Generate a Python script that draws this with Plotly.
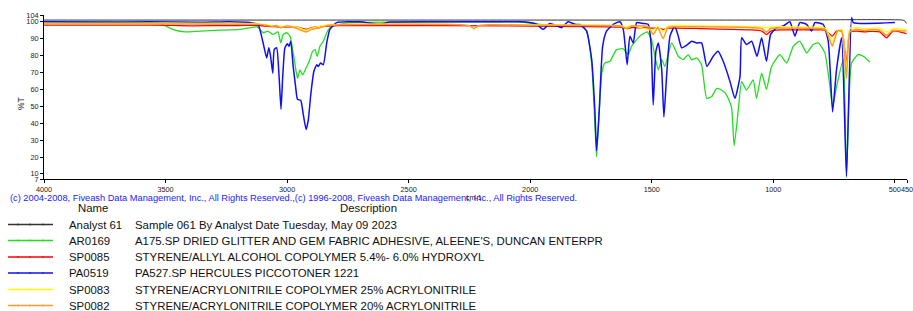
import plotly.graph_objects as go

# ---------------- data ----------------
x_ticks = [4000, 3500, 3000, 2500, 2000, 1500, 1000, 500, 450]
y_ticks = [7, 10, 20, 30, 40, 50, 60, 70, 80, 90, 100, 104]

names = ["Analyst 61", "AR0169", "SP0085", "PA0519", "SP0083", "SP0082"]
descriptions = [
    "Sample 061 By Analyst Date Tuesday, May 09 2023",
    "A175.SP DRIED GLITTER AND GEM FABRIC ADHESIVE, ALEENE'S, DUNCAN ENTERPR",
    "STYRENE/ALLYL ALCOHOL COPOLYMER 5.4%- 6.0% HYDROXYL",
    "PA527.SP HERCULES PICCOTONER 1221",
    "STYRENE/ACRYLONITRILE COPOLYMER 25% ACRYLONITRILE",
    "STYRENE/ACRYLONITRILE COPOLYMER 20% ACRYLONITRILE",
]
colors = ["#333333", "#22dd22", "#ff0000", "#1010ee", "#ffff00", "#ff9933"]

analyst_wn = [4000, 3000, 2000, 1000, 467, 459, 452]
analyst_t = [101, 101, 101, 101, 101, 100.5, 99]

ar0169_wn = [4000, 3770, 3564, 3523, 3461, 3420, 3358, 3276, 3194, 3124, 3098, 3079, 3058,
             3038, 3026, 3016, 3002, 2988, 2975, 2964, 2957, 2947, 2936, 2922, 2909, 2895,
             2885, 2876, 2865, 2851, 2837, 2824, 2783, 2741, 2536, 2124, 2042, 1960, 1865,
             1795, 1768, 1747, 1734, 1727, 1716, 1705, 1693, 1672, 1645, 1617, 1597, 1583,
             1549, 1519, 1501, 1487, 1473, 1459, 1446, 1418, 1391, 1371, 1350, 1336, 1315,
             1295, 1274, 1254, 1233, 1213, 1192, 1172, 1161, 1144, 1130, 1110, 1083, 1069,
             1048, 1028, 1007, 973, 945, 918, 891, 863, 836, 815, 788, 767, 756, 740, 712,
             699, 678, 651, 630, 603]
ar0169_t = [100, 99.8, 99.5, 99, 95, 94, 94.5, 95, 95.5, 97, 93.5, 94.5, 92.5,
            94, 87.5, 92.5, 93.5, 91.5, 81.6, 71.6, 66.6, 71.6, 68.6, 72.6, 76.6, 82.5,
            83.5, 79.6, 85.5, 88.5, 93.5, 96.5, 98.5, 99.5, 99.8, 100, 100, 98.5, 97.5,
            98.5, 94.5, 75, 40, 20.2, 47, 70, 75.6, 76.6, 83.5, 84, 80.6, 85.5,
            91.5, 94, 89.5, 79.6, 71.6, 77.6, 73.6, 87.5, 79.6, 77.6, 80.6, 77.6, 78.6,
            74.6, 54.7, 55.6, 60.6, 59.6, 56.6, 49.6, 26.7, 47.7, 64.6, 59.6, 65.6, 54.7,
            69.6, 60, 73.6, 80.6, 75.6, 85.5, 88.5, 81.6, 86.5, 87.5, 81.6, 61.6, 49.6, 61.6, 77.6,
            8, 75.6, 80.6, 79.6, 76.2]

sp0085_wn = [4000, 3564, 3400, 3200, 3120, 3062, 3025, 2959, 2922, 2898, 2832, 2783, 2001,
             1631, 1603, 1582, 1494, 1475, 1453, 1433, 1302, 1095, 1047, 1028, 1010, 973,
             903, 800, 784, 757, 740, 718, 699, 685, 657, 623, 603, 562, 534, 508, 493, 452]
sp0085_t = [98, 98, 97.6, 97.8, 97.8, 97.2, 96.8, 96.8, 95.5, 96.5, 97.5, 97.7, 97.5,
            96.8, 96, 96.6, 96.2, 96.3, 95.5, 96.2, 96, 95.2, 94.5, 92.5, 94.5, 95.2,
            95.2, 95.2, 94.8, 91.5, 94.5, 94.5, 75.6, 94, 94.5, 94, 94.3, 94, 90.5, 94.5, 94.4, 93]

pa0519_wn = [4000, 3770, 3564, 3358, 3235, 3153, 3120, 3099, 3084, 3075, 3068, 3059, 3053,
             3043, 3033, 3025, 3018, 3009, 2999, 2992, 2985, 2975, 2965, 2957, 2944, 2934,
             2922, 2913, 2902, 2890, 2878, 2872, 2862, 2851, 2837, 2824, 2796, 2700, 2618,
             2577, 2330, 2042, 2001, 1974, 1946, 1919, 1891, 1871, 1844, 1816, 1788, 1768,
             1747, 1734, 1727, 1716, 1702, 1686, 1658, 1631, 1617, 1601, 1590, 1576, 1562,
             1535, 1515, 1503, 1494, 1483, 1473, 1459, 1450, 1439, 1425, 1405, 1391, 1377,
             1357, 1336, 1315, 1295, 1273, 1247, 1227, 1206, 1178, 1158, 1137, 1130, 1110,
             1089, 1067, 1048, 1028, 1011, 986, 959, 932, 911, 891, 863, 843, 829, 795, 774,
             756, 740, 719, 699, 678, 671, 500]
pa0519_t = [100, 99.8, 100, 99.7, 100, 99.5, 98.5, 87.7, 78.6, 84.7, 79.6, 69.6, 83.5,
            84.6, 67.6, 48.3, 67.6, 84.6, 87, 85.5, 88.5, 73.6, 61.6, 54, 53.6, 45.7,
            36.3, 41.7, 57.7, 70.6, 74.6, 73.6, 75.6, 74.6, 87.5, 95.5, 99.5, 100, 98.5,
            99.8, 100, 100, 99.5, 98.5, 95.5, 99, 97.5, 96.5, 100, 98.5, 97.5, 94.5,
            77.6, 47.7, 23.7, 47.7, 85.5, 94.5, 98.5, 100, 95.5, 74.6, 91.5, 87.5, 99.5,
            99, 98.5, 87.5, 50.7, 82.5, 87.5, 71.6, 43.7, 67.6, 91.5, 97.5, 91.5, 84.6,
            86, 88.5, 87.5, 87.5, 73.6, 79.6, 82.5, 76.6, 64.6, 54.7, 67.6, 90.5, 86.5,
            88.5, 79.6, 90.5, 76.6, 92.5, 96.5, 97.5, 100, 91.5, 99.5, 98.5, 94.5, 99.5, 98.5, 88.5,
            46.7, 71.6, 90.5, 8.8, 102.5, 99.5, 99.5]

sp0083_wn = [4000, 3120, 3062, 3025, 2959, 2922, 2898, 2832, 2289, 2248, 2231, 2215, 2166,
             2001, 1631, 1603, 1582, 1494, 1475, 1453, 1433, 1302, 1047, 1028, 1010, 903,
             800, 784, 757, 740, 718, 699, 685, 657, 623, 562, 534, 508, 452]
sp0083_t = [99, 98.8, 97.8, 97.2, 96.8, 95, 96.3, 98.2, 98.5, 97.5, 95.8, 97.5, 98.4,
            98.2, 97.8, 97, 97.8, 95, 97.2, 94, 97.5, 97.5, 97, 96.5, 97, 97,
            96.8, 96, 88.5, 93.5, 95.5, 71.6, 96, 96.5, 96, 96.3, 94, 96, 95.5]

sp0082_wn = [4000, 3564, 3120, 3080, 3062, 3045, 3025, 3005, 2988, 2959, 2922, 2898, 2865,
             2832, 2783, 2289, 2248, 2231, 2215, 2166, 2001, 1754, 1631, 1603, 1582, 1516,
             1494, 1475, 1453, 1433, 1384, 1302, 1084, 1047, 1028, 1010, 973, 903, 800, 784,
             757, 751, 734, 718, 699, 685, 657, 623, 603, 562, 534, 508, 493, 452]
sp0082_t = [98.7, 98.7, 98.5, 97.8, 97.2, 97.8, 96.5, 97.5, 97.4, 96, 94, 95.5, 96.5,
            97.9, 98.3, 98.3, 97.5, 96, 97.5, 98.2, 98, 97.8, 97.6, 96, 97.5, 97.3,
            92.5, 96.5, 90, 96.7, 97, 97, 96.5, 96, 94, 96, 96.3, 96.2, 96, 95,
            85.5, 88, 95, 94, 66.6, 94, 95.5, 94.8, 95.3, 95, 92, 95, 94.8, 94.5]

series_wn = [analyst_wn, ar0169_wn, sp0085_wn, pa0519_wn, sp0083_wn, sp0082_wn]
series_t = [analyst_t, ar0169_t, sp0085_t, pa0519_t, sp0083_t, sp0082_t]

copyright_text = ("(c) 2004-2008, Fiveash Data Management, Inc., All Rights Reserved.,"
                  "(c) 1996-2008, Fiveash Data Management, Inc., All Rights Reserved.")

# ---------------- layout geometry ----------------
W, H = 913, 311
L, R, T, B = 44, 907, 15, 179
FONT = "Arial, Liberation Sans, sans-serif"


def pxx(x):
    return (x - L) / (R - L)


def pyy(y):
    return (B - y) / (B - T)


fig = go.Figure()
widths = [1.0, 1.3, 1.3, 1.5, 1.3, 1.5]
for wn, t, c, n, w in zip(series_wn, series_t, colors, names, widths):
    fig.add_trace(go.Scatter(x=wn, y=t, mode="lines", name=n,
                             line=dict(color=c, width=w, shape="spline", smoothing=0.5),
                             hoverinfo="x+y+name"))

annotations = []
shapes = []

annotations.append(dict(text="%T", x=pxx(14), y=pyy(103), xref="paper", yref="paper",
                        showarrow=False, textangle=-90, font=dict(size=8.5, color="#222", family=FONT)))
annotations.append(dict(text=copyright_text, x=pxx(8), y=pyy(197.5), xref="paper", yref="paper",
                        xanchor="left", yanchor="middle", showarrow=False,
                        font=dict(size=9.25, color="#2222ff", family=FONT)))
annotations.append(dict(text="cm-1", x=pxx(474), y=pyy(197.5), xref="paper", yref="paper",
                        xanchor="center", yanchor="middle", showarrow=False,
                        font=dict(size=7, color="#222", family=FONT)))

annotations.append(dict(text="Name", x=pxx(93), y=pyy(207.5), xref="paper", yref="paper",
                        xanchor="center", yanchor="middle", showarrow=False,
                        font=dict(size=11.4, color="#111", family=FONT)))
annotations.append(dict(text="Description", x=pxx(368), y=pyy(207.5), xref="paper", yref="paper",
                        xanchor="center", yanchor="middle", showarrow=False,
                        font=dict(size=11.4, color="#111", family=FONT)))
row_y = [224.5, 240.5, 257, 273, 289.5, 305.5]
for i, (n, d, c) in enumerate(zip(names, descriptions, colors)):
    yy = row_y[i]
    shapes.append(dict(type="line", xref="paper", yref="paper", x0=pxx(8), x1=pxx(53),
                       y0=pyy(yy), y1=pyy(yy), line=dict(color=c, width=1.3)))
    for tx in (18, 30, 43):
        shapes.append(dict(type="line", xref="paper", yref="paper", x0=pxx(tx), x1=pxx(tx),
                           y0=pyy(yy - 1), y1=pyy(yy + 1), line=dict(color=c, width=1)))
    annotations.append(dict(text=n, x=pxx(67), y=pyy(yy), xref="paper", yref="paper",
                            xanchor="left", yanchor="middle", showarrow=False,
                            font=dict(size=11.4, color="#111", family=FONT)))
    annotations.append(dict(text=d, x=pxx(133), y=pyy(yy), xref="paper", yref="paper",
                            xanchor="left", yanchor="middle", showarrow=False,
                            font=dict(size=11.4, color="#111", family=FONT)))

fig.update_layout(
    width=W, height=H, autosize=False,
    margin=dict(l=L, r=W - R, t=T, b=H - B, pad=0),
    paper_bgcolor="white", plot_bgcolor="white",
    showlegend=False,
    font=dict(family=FONT, size=9, color="#222"),
    annotations=annotations,
    shapes=shapes,
    xaxis=dict(range=[4000, 450], tickmode="array", tickvals=x_ticks,
               ticktext=[str(v) for v in x_ticks], tickangle=0, ticklabeloverflow="allow",
               showgrid=False, zeroline=False, showline=True, linecolor="black", linewidth=1,
               ticks="outside", ticklen=3, tickcolor="black", tickfont=dict(size=7.3, color="#222"),
               automargin=False),
    yaxis=dict(range=[7, 104], tickmode="array", tickvals=y_ticks,
               showgrid=False, zeroline=False, showline=True, linecolor="black", linewidth=1,
               ticks="outside", ticklen=3, tickcolor="black", tickfont=dict(size=7.3, color="#222"),
               automargin=False),
)

fig.write_html(
    "out.html",
    config={"responsive": False, "displayModeBar": False},
    post_script="document.body.style.margin='0';document.body.style.overflow='hidden';",
)
